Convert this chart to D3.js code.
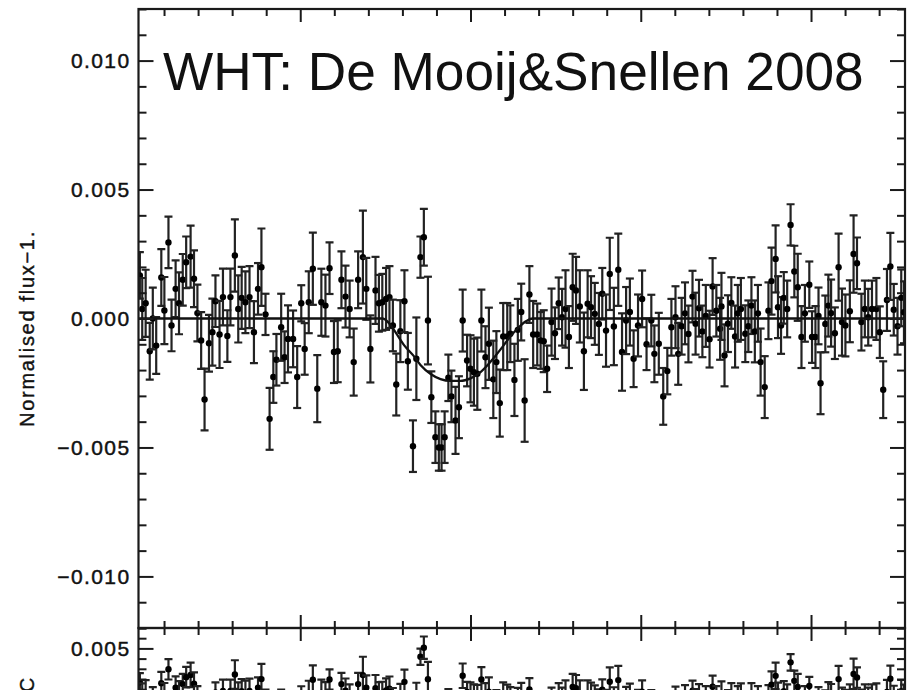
<!DOCTYPE html>
<html>
<head>
<meta charset="utf-8">
<script src="https://cdn.jsdelivr.net/npm/d3@7"></script>
<style>
  body { margin: 0; background: #fff; }
  svg { display: block; }
  text { font-family: "Liberation Sans", Arial, Helvetica, sans-serif; fill: #111; }
</style>
</head>
<body>
<svg id="chart" width="917" height="690"></svg>
<script>
// Orbital phase of each exposure
const phase = [
  0.4029,0.4036,0.4046,0.4058,0.4067,0.4077,0.4092,0.4101,0.4113,0.4122,
  0.4134,0.4144,0.4155,0.4165,0.4178,0.4188,0.4198,0.4209,0.4219,0.4232,
  0.4242,0.4251,0.4263,0.4273,0.4286,0.4295,0.4308,0.4318,0.4328,0.4339,
  0.4351,0.4364,0.4376,0.4386,0.4398,0.4410,0.4421,0.4430,0.4444,0.4454,
  0.4464,0.4479,0.4491,0.4503,0.4513,0.4525,0.4537,0.4550,0.4562,0.4574,
  0.4586,0.4599,0.4610,0.4621,0.4633,0.4645,0.4657,0.4670,0.4684,0.4694,
  0.4706,0.4721,0.4731,0.4741,0.4752,0.4762,0.4772,0.4782,0.4794,0.4806,
  0.4816,0.4831,0.4841,0.4853,0.4863,0.4875,0.4885,0.4897,0.4907,0.4915,
  0.4924,0.4935,0.4944,0.4956,0.4966,0.4977,0.4990,0.5000,0.5010,0.5020,
  0.5032,0.5044,0.5054,0.5067,0.5076,0.5086,0.5096,0.5108,0.5117,0.5129,
  0.5139,0.5149,0.5159,0.5173,0.5184,0.5196,0.5206,0.5215,0.5225,0.5238,
  0.5248,0.5259,0.5269,0.5279,0.5289,0.5300,0.5310,0.5321,0.5333,0.5344,
  0.5354,0.5365,0.5377,0.5387,0.5398,0.5409,0.5421,0.5434,0.5445,0.5457,
  0.5468,0.5479,0.5492,0.5504,0.5517,0.5531,0.5540,0.5553,0.5566,0.5578,
  0.5590,0.5602,0.5610,0.5620,0.5630,0.5640,0.5652,0.5661,0.5671,0.5681,
  0.5691,0.5702,0.5711,0.5722,0.5733,0.5737,0.5746,0.5756,0.5766,0.5777,
  0.5785,0.5794,0.5807,0.5816,0.5825,0.5835,0.5844,0.5852,0.5864,0.5875,
  0.5884,0.5896,0.5903,0.5912,0.5920,0.5930,0.5940,0.5951,0.5961,0.5972,
  0.5982,0.5995,0.6003,0.6013,0.6022,0.6028,0.6042,0.6051,0.6059,0.6070,
  0.6081,0.6091,0.6101,0.6114,0.6125,0.6135,0.6148,0.6158,0.6168,0.6179,
  0.6192,0.6202,0.6212,0.6223,0.6233,0.6243,0.6254,0.6265,0.6273
];

// Normalised flux − 1, in units of 10^-3
const fluxMilli = [
  1.67,0.37,0.59,-1.27,0.00,-1.05,1.59,0.31,2.95,-0.27,
  1.15,0.59,1.50,2.18,2.40,1.54,0.21,-0.85,-3.14,-0.96,
  -0.53,0.67,-0.62,0.83,-0.68,0.83,2.44,0.37,0.80,0.63,
  0.83,-0.53,1.15,1.99,0.16,-3.89,-2.27,-1.60,-0.34,-1.50,
  -0.79,-0.79,-2.27,0.59,-1.18,0.63,1.93,-2.72,0.63,0.50,
  1.95,-1.30,-1.27,1.50,0.85,0.37,-1.69,1.50,2.38,1.15,
  -1.18,1.09,0.59,0.63,0.76,0.83,-0.27,-2.56,-0.49,0.67,
  -1.66,-4.95,-1.56,2.38,3.15,-0.08,-3.05,-4.60,-5.00,-5.00,
  -4.60,-2.30,-3.02,-3.95,-3.44,-0.08,-1.63,-1.95,-2.08,-2.14,
  -0.08,-1.50,-0.98,-2.36,-1.69,-3.28,-0.70,-0.70,-0.59,-2.38,
  -0.44,0.25,-3.18,0.93,-0.62,-0.62,-0.85,-0.88,-1.95,-0.14,
  -0.57,0.59,0.05,0.37,-0.72,1.21,1.09,0.47,-1.27,0.57,
  0.44,0.18,-0.21,0.96,-0.47,1.73,-0.31,1.89,-1.30,-0.08,
  0.25,-1.56,-0.27,0.76,-1.00,-0.08,-1.37,-0.98,-3.02,-2.04,
  -0.34,0.05,-1.37,-0.30,0.20,-0.60,0.85,-0.20,0.40,-0.50,
  0.10,-0.80,1.24,0.30,-0.40,0.47,-1.43,-0.20,0.60,-0.70,
  0.20,0.37,-0.59,-0.30,0.50,-0.50,0.20,-1.69,-2.66,0.30,
  1.45,2.31,0.44,-0.27,0.80,0.37,3.63,1.82,1.21,-0.72,
  0.20,1.31,-0.72,-0.72,0.10,-2.51,-0.21,0.50,0.21,-0.57,
  1.99,-0.14,-0.27,0.28,2.50,2.14,-0.14,0.37,0.05,0.37,
  0.37,-0.53,-2.76,0.72,2.02,0.34,-0.30,0.80,0.24
];

// 1-sigma uncertainty of each point, in units of 10^-3
const errMilli = [
  0.9,1.2,1.3,1.1,1.2,1.1,1.1,1.3,1.0,1.0,
  1.1,1.2,1.0,1.0,1.2,1.1,1.1,1.1,1.2,1.1,
  1.3,1.0,1.3,1.1,1.0,1.1,1.4,1.3,1.2,1.2,
  1.2,1.2,1.0,1.5,0.8,1.2,1.0,1.0,1.3,1.0,
  1.3,1.1,1.2,0.7,1.0,1.2,1.4,1.3,1.3,1.2,
  1.0,1.2,1.2,1.1,1.2,1.1,1.3,1.1,1.8,1.2,
  1.3,1.3,1.1,1.1,1.2,1.2,1.0,1.2,1.2,1.2,
  1.1,1.0,1.6,0.8,1.1,1.7,1.0,1.0,0.9,0.9,
  1.0,0.9,1.0,1.3,1.2,1.2,1.0,1.3,1.3,1.4,
  1.2,1.2,1.4,1.5,1.2,1.3,1.3,1.3,1.1,1.4,
  1.2,1.1,1.6,1.1,1.3,1.2,1.1,1.2,0.9,1.3,
  1.0,1.0,1.1,1.5,1.2,1.3,1.3,1.4,1.5,1.3,
  1.2,1.2,1.2,1.0,1.4,1.4,1.5,1.4,1.5,1.3,
  1.3,1.1,1.2,1.1,1.0,1.0,1.1,1.2,1.1,0.9,
  1.1,1.2,1.2,1.1,1.2,1.1,1.0,1.2,1.1,1.0,
  1.2,1.1,1.1,1.0,1.2,1.3,1.2,1.1,1.0,1.2,
  1.1,1.2,1.1,1.0,1.1,1.2,1.1,1.3,1.2,1.1,
  1.3,1.3,1.2,1.1,1.0,1.1,0.8,1.0,1.3,1.2,
  1.1,0.9,1.0,1.2,1.1,1.2,1.1,1.2,1.3,1.0,
  1.3,1.3,1.2,1.2,1.5,1.0,1.1,1.1,1.1,1.1,
  1.2,1.0,1.1,1.2,1.3,1.0,1.1,1.1,1.2
];

// Best-fitting eclipse model, in units of 10^-3
const modelPhase = [0.4025,0.4742,0.4765,0.4783,0.4806,0.4833,0.4853,0.4883,0.4912,0.4941,
                    0.4971,0.5000,0.5023,0.5047,0.5070,0.5094,0.5117,0.5141,0.5164,0.5182,0.6276];
const modelMilli = [0,0,-0.25,-0.60,-1.05,-1.45,-1.80,-2.15,-2.35,-2.42,
                    -2.42,-2.32,-2.15,-1.85,-1.50,-1.10,-0.70,-0.35,-0.10,0,0];

const titleText = "WHT: De Mooij&Snellen 2008";
const yLabelTop = "Normalised flux\u22121.";
const yLabelBottom = "O\u2212C";

const xDomain = [0.4025, 0.6276];
const xMajor = [0.45, 0.50, 0.55, 0.60];
const xMinor = [0.41,0.42,0.43,0.44,0.46,0.47,0.48,0.49,0.51,0.52,0.53,0.54,0.56,0.57,0.58,0.59,0.61,0.62];

const yTopDomain = [-12, 12];
const yTopMajor = [-10, -5, 0, 5, 10];
const yTopLabels = ["\u22120.010", "\u22120.005", "0.000", "0.005", "0.010"];
const yTopMinor = [-12,-11,-9,-8,-7,-6,-4,-3,-2,-1,1,2,3,4,6,7,8,9,11,12];

const yBotDomain = [-7, 7];
const yBotMajor = [-5, 0, 5];
const yBotLabelled = [5];
const yBotLabels = ["0.005"];
const yBotMinor = [-7,-6,-4,-3,-2,-1,1,2,3,4,6,7];

// ---- layout ----
const plotLeft = 138.5, plotRight = 905, plotTop = 9, plotMid = 628, botH = 142.8;
const svg = d3.select("#chart");

const x = d3.scaleLinear().domain(xDomain).range([plotLeft, plotRight]);
const yTop = d3.scaleLinear().domain(yTopDomain).range([plotMid, plotTop]);
const yBot = d3.scaleLinear().domain(yBotDomain).range([plotMid + botH, plotMid]);

// model evaluated at each exposure, for the residuals
const model = d3.scaleLinear().domain(modelPhase).range(modelMilli);

const points = phase.map((p, i) => ({
  p, f: fluxMilli[i], e: errMilli[i], r: fluxMilli[i] - model(p)
}));

const defs = svg.append("defs");
defs.append("clipPath").attr("id", "clipTop")
  .append("rect").attr("x", plotLeft).attr("y", plotTop).attr("width", plotRight - plotLeft).attr("height", plotMid - plotTop);
defs.append("clipPath").attr("id", "clipBot")
  .append("rect").attr("x", plotLeft).attr("y", plotMid).attr("width", plotRight - plotLeft).attr("height", botH);

const barColor = "#222";

function drawPanel(cls, yScale, valueKey, clipId) {
  const g = svg.append("g").attr("clip-path", `url(#${clipId})`);
  const bars = g.selectAll(`g.${cls}`).data(points).join("g").attr("class", cls);
  bars.append("line")
    .attr("x1", d => x(d.p)).attr("x2", d => x(d.p))
    .attr("y1", d => yScale(d[valueKey] - d.e)).attr("y2", d => yScale(d[valueKey] + d.e))
    .attr("stroke", barColor).attr("stroke-width", 2.2);
  [-1, 1].forEach(s => {
    bars.append("line")
      .attr("x1", d => x(d.p) - 4).attr("x2", d => x(d.p) + 4)
      .attr("y1", d => yScale(d[valueKey] + s * d.e)).attr("y2", d => yScale(d[valueKey] + s * d.e))
      .attr("stroke", barColor).attr("stroke-width", 2.2);
  });
  bars.append("circle")
    .attr("cx", d => x(d.p)).attr("cy", d => yScale(d[valueKey]))
    .attr("r", 3.2).attr("fill", "#000");
  return g;
}

// top panel: data and model
const gTop = drawPanel("pt", yTop, "f", "clipTop");
gTop.append("path")
  .datum(modelPhase.map((p, i) => [p, modelMilli[i]]))
  .attr("fill", "none").attr("stroke", "#111").attr("stroke-width", 2.3)
  .attr("d", d3.line().x(d => x(d[0])).y(d => yTop(d[1])).curve(d3.curveMonotoneX));

// bottom panel: residuals
drawPanel("res", yBot, "r", "clipBot");

// ---- axes ----
const axisColor = "#1a1a1a";
function styleAxis(g) {
  g.select(".domain").remove();
  g.selectAll(".tick line").attr("stroke", axisColor).attr("stroke-width", 2);
  g.selectAll(".tick text")
    .style("font-family", '"Liberation Sans", Arial, sans-serif')
    .style("font-size", "21px").style("letter-spacing", "1.4px")
    .attr("fill", "#111").attr("stroke", "#111").attr("stroke-width", 0.45);
}

// y axes, top panel
svg.append("g").attr("transform", `translate(${plotLeft},0)`)
  .call(d3.axisLeft(yTop).tickValues(yTopMajor).tickSize(-15).tickPadding(8)
    .tickFormat((d, i) => yTopLabels[i])).call(styleAxis);
svg.append("g").attr("transform", `translate(${plotLeft},0)`)
  .call(d3.axisLeft(yTop).tickValues(yTopMinor).tickSize(-8).tickFormat("")).call(styleAxis);
svg.append("g").attr("transform", `translate(${plotRight},0)`)
  .call(d3.axisRight(yTop).tickValues(yTopMajor).tickSize(-15).tickFormat("")).call(styleAxis);
svg.append("g").attr("transform", `translate(${plotRight},0)`)
  .call(d3.axisRight(yTop).tickValues(yTopMinor).tickSize(-8).tickFormat("")).call(styleAxis);

// y axes, residual panel
svg.append("g").attr("transform", `translate(${plotLeft},0)`)
  .call(d3.axisLeft(yBot).tickValues(yBotMajor).tickSize(-15).tickFormat("")).call(styleAxis);
svg.append("g").attr("transform", `translate(${plotLeft},0)`)
  .call(d3.axisLeft(yBot).tickValues(yBotLabelled).tickSize(0).tickPadding(8)
    .tickFormat((d, i) => yBotLabels[i])).call(styleAxis);
svg.append("g").attr("transform", `translate(${plotLeft},0)`)
  .call(d3.axisLeft(yBot).tickValues(yBotMinor).tickSize(-8).tickFormat("")).call(styleAxis);
svg.append("g").attr("transform", `translate(${plotRight},0)`)
  .call(d3.axisRight(yBot).tickValues(yBotMajor).tickSize(-15).tickFormat("")).call(styleAxis);
svg.append("g").attr("transform", `translate(${plotRight},0)`)
  .call(d3.axisRight(yBot).tickValues(yBotMinor).tickSize(-8).tickFormat("")).call(styleAxis);

// x ticks: top edge (inward), shared edge (both panels)
[[plotTop, d3.axisTop], [plotMid, d3.axisTop], [plotMid, d3.axisBottom]].forEach(([yy, ax]) => {
  svg.append("g").attr("transform", `translate(0,${yy})`)
    .call(ax(x).tickValues(xMajor).tickSize(-13).tickFormat("")).call(styleAxis);
  svg.append("g").attr("transform", `translate(0,${yy})`)
    .call(ax(x).tickValues(xMinor).tickSize(-7).tickFormat("")).call(styleAxis);
});

// frames
svg.append("rect").attr("x", plotLeft).attr("y", plotTop).attr("width", plotRight - plotLeft).attr("height", plotMid - plotTop)
  .attr("fill", "none").attr("stroke", axisColor).attr("stroke-width", 2.2);
svg.append("rect").attr("x", plotLeft).attr("y", plotMid).attr("width", plotRight - plotLeft).attr("height", botH)
  .attr("fill", "none").attr("stroke", axisColor).attr("stroke-width", 2.2);

// axis titles
svg.append("text")
  .attr("transform", `translate(34,${(plotTop + plotMid) / 2 + 10}) rotate(-90)`)
  .attr("text-anchor", "middle")
  .style("font-size", "20px").style("letter-spacing", "1.7px")
  .attr("stroke", "#111").attr("stroke-width", 0.4)
  .text(yLabelTop);
svg.append("text")
  .attr("transform", `translate(34,${yBot(0)}) rotate(-90)`)
  .attr("text-anchor", "middle")
  .style("font-size", "20px").style("letter-spacing", "1.7px")
  .attr("stroke", "#111").attr("stroke-width", 0.4)
  .text(yLabelBottom);

// annotation
svg.append("text")
  .attr("x", 163).attr("y", 90)
  .style("font-size", "53.2px").attr("fill", "#000")
  .text(titleText);
</script>
</body>
</html>
